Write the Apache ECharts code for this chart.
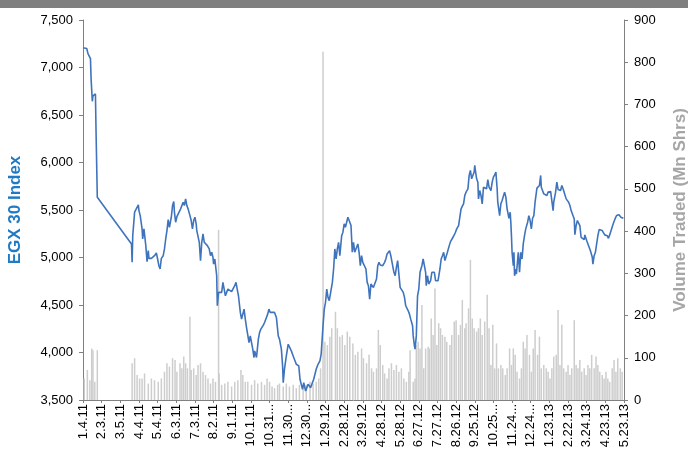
<!DOCTYPE html>
<html>
<head>
<meta charset="utf-8">
<script src="https://cdn.jsdelivr.net/npm/echarts@6/dist/echarts.min.js"></script>
<style>
  html, body { margin: 0; padding: 0; background: #fff; }
  #container { width: 688px; height: 453px; }
</style>
</head>
<body>
<div id="container"></div>
<script>
// days counted from 1.4.11 (the first tick)
const xTickLabels = ['1.4.11','2.3.11','3.5.11','4.4.11','5.4.11','6.3.11','7.3.11','8.2.11','9.1.11','10.1.11',
  '10.31...','11.30...','12.30...','1.29.12','2.28.12','3.29.12','4.28.12','5.28.12','6.27.12','7.27.12',
  '8.26.12','9.25.12','10.25...','11.24...','12.24...','1.23.13','2.22.13','3.24.13','4.23.13','5.23.13'];

const egxDays = [0,6,8,10,12,13,15,16,18,20,21,23,
  78,79,80,83,86,89,90,92,95,96,98,101,103,105,106,110,113,115,118,120,122,124,126,129,131,133,135,137,139,142,144,146,147,149,151,154,157,159,161,163,165,167,169,172,174,176,178,180,182,183,186,187,189,191,193,195,197,200,203,205,207,209,210,212,
  215,216,218,220,223,225,227,229,231,233,236,239,241,244,246,248,250,253,255,257,259,261,263,264,267,269,271,273,275,276,278,279,282,284,286,288,290,292,294,297,299,301,304,308,311,314,316,319,321,322,324,327,330,332,335,338,340,343,345,347,349,351,353,355,358,360,362,364,366,368,371,373,375,378,381,383,386,388,390,392,394,396,398,401,403,405,407,409,411,413,416,418,420,422,424,426,428,
  431,433,435,437,440,442,444,446,448,450,452,455,457,459,461,463,465,467,470,472,474,476,478,480,482,485,487,489,491,493,495,497,500,502,504,506,508,510,512,515,517,519,521,523,525,527,530,531,533,534,536,538,540,542,545,547,549,551,552,554,556,559,561,563,565,567,569,571,574,576,578,580,582,584,586,589,591,593,595,597,599,601,604,606,608,610,612,614,616,619,621,623,625,627,629,630,631,633,635,636,638,640,642,644,
  649,651,653,656,658,660,662,664,666,667,670,672,674,676,678,680,682,685,687,688,689,690,692,693,694,696,697,700,702,704,706,708,710,712,715,717,719,721,723,725,727,730,732,734,736,737,739,741,744,746,748,750,752,754,756,757,760,762,764,766,768,770,772,775,777,779,781,783,785,787,790,791,793,795,797,799,801,804,806,807,809,810,812,814,816,819,820,822,824,826,828,830,832,835,837,839,841,843,845,847,850,852,854,856,858,860,862,865,867,869];

const egxValues = [7207,7200,7147,7158,7094,6883,6644,6701,6697,6722,6321,5635,
  5143,4949,5230,5477,5477,5554,5494,5441,5301,5195,5301,5125,4956,5072,4991,4991,4977,5019,5048,4984,4914,4879,4991,5019,5090,5195,5283,5399,5318,5424,5547,5589,5477,5371,5431,5424,5512,5530,5582,5547,5617,5547,5512,5441,5389,5301,5389,5424,5354,5283,5294,5160,4967,5160,5248,5160,5143,5125,5090,5019,5055,5002,4931,4984,
  4808,4492,4633,4615,4633,4738,4668,4597,4633,4668,4650,4640,4650,4703,4738,4721,4597,4422,4351,4404,4457,4351,4263,4281,4105,4175,4193,4035,3947,4017,4035,3947,4140,4211,4246,4263,4288,4316,4334,4404,4457,4422,4422,4422,4369,4175,4140,4035,3859,3683,3824,3964,4087,4070,4017,3964,3957,3876,3894,3859,3718,3665,3613,3683,3595,3630,3665,3648,3630,3648,3718,3771,3824,3876,3912,3982,4281,4457,4527,4668,4580,4545,4527,4738,4879,5090,4984,5090,5160,5019,5230,5266,5354,5318,5371,5424,5441,
  5336,5055,5160,5055,5107,5143,5055,4914,5019,4949,4949,4879,4738,4703,4562,4721,4721,4685,4668,4773,4914,4949,4921,4928,4914,4949,4984,5037,5026,5072,5019,4949,4844,4808,4896,4967,4826,4685,4668,4633,4580,4492,4485,4439,4404,4351,4281,4175,4070,4035,4175,4597,4668,4844,4914,4984,4914,4844,4703,4808,4721,4756,4844,4861,4844,4756,4738,4756,4879,4984,5019,5055,4967,4984,5055,5125,5167,5171,5213,5238,5266,5301,5336,5424,5512,5540,5565,5653,5688,5723,5864,5916,5828,5818,5899,5969,5916,5828,5793,5617,5705,5653,5565,5740,
  5723,5821,5740,5705,5793,5846,5871,5899,5723,5582,5441,5565,5600,5617,5688,5635,5512,5413,5477,5371,5230,5055,4914,5055,4808,4879,4826,5055,4844,5055,4984,5143,5230,5301,5371,5441,5389,5301,5413,5441,5582,5730,5740,5758,5864,5740,5705,5670,5688,5653,5688,5688,5695,5688,5494,5582,5688,5793,5716,5723,5705,5758,5723,5705,5617,5600,5582,5547,5494,5512,5406,5241,5336,5389,5406,5336,5213,5230,5188,5238,5248,5178,5143,5125,5072,5002,4931,5019,5055,5143,5230,5294,5301,5283,5266,5238,5230,5230,5202,5238,5301,5343,5378,5413,5441,5431,5449,5424,5441,5413];

const volDays = [2,7,11,14,16,19,23,
  79,83,87,91,95,99,105,110,115,121,126,131,135,139,144,148,151,156,159,162,165,168,172,174,178,182,185,189,193,197,201,205,209,213,218,
  219,223,228,233,239,244,249,254,257,261,265,271,276,281,287,292,296,300,304,308,313,316,322,327,332,338,343,348,354,359,365,370,375,379,382,386,389,393,397,400,406,409,413,417,421,425,429,
  434,438,442,448,451,456,460,464,467,472,475,478,482,485,489,492,496,500,504,508,512,516,520,524,526,531,534,536,539,542,545,548,551,555,557,560,563,566,569,572,575,578,582,585,590,593,597,600,604,607,610,614,616,620,623,626,629,633,636,639,642,646,650,653,
  656,659,662,665,668,672,675,679,682,686,689,692,695,698,702,705,708,711,714,718,721,724,727,731,734,737,741,745,748,751,754,757,761,764,767,770,773,777,780,783,786,790,793,796,799,802,806,809,812,815,818,822,825,828,831,835,838,841,844,847,851,854,857,860,864,867];

const volValues = [51,71,47,122,118,43,118,
  87,99,59,51,51,63,39,51,47,43,51,67,87,79,99,95,67,87,75,103,87,75,197,71,75,59,83,87,67,59,51,39,51,43,403,
  63,36,39,43,32,43,47,71,59,43,43,36,47,39,43,36,51,43,32,28,36,39,32,39,32,36,28,36,32,36,43,39,43,51,75,825,138,130,150,170,209,170,150,154,130,162,150,
  134,107,114,122,99,87,107,75,67,75,166,130,83,63,51,75,87,71,83,67,75,51,43,67,118,43,51,130,138,122,225,75,122,126,122,193,154,264,130,182,170,154,150,138,130,154,186,189,154,178,237,170,182,217,332,193,170,162,170,193,154,186,249,170,
  83,178,75,134,75,83,75,59,75,122,83,122,107,67,51,75,138,122,154,107,67,122,166,107,150,75,83,75,67,51,75,103,107,213,83,178,75,67,83,59,75,189,83,75,95,67,75,59,83,75,107,75,103,83,67,59,51,67,51,43,75,95,67,99,75,67];

function zip(a, b) {
  return a.map((d, i) => [d, b[i]]);
}

let mychart = echarts.init(document.getElementById('container'));

const font = 'Liberation Sans, Arial, sans-serif';

var option = {
  animation: false,
  grid: { left: 83, right: 64, top: 20, bottom: 53, containLabel: false, outerBoundsMode: 'none' },
  graphic: [{
    type: 'rect', left: 0, top: 0, z: 10,
    shape: { width: 688, height: 8 },
    style: { fill: '#7f7f7f' }
  }],
  xAxis: {
    type: 'value',
    min: 0, max: 870, interval: 30,
    axisLine: { lineStyle: { color: '#808080', width: 1 } },
    axisTick: { show: true, length: 3, lineStyle: { color: '#808080' } },
    splitLine: { show: false },
    axisLabel: {
      rotate: 90, color: '#000', fontFamily: font, fontSize: 13, margin: 4,
      formatter: v => xTickLabels[Math.round(v / 30)]
    }
  },
  yAxis: [{
    type: 'value',
    min: 3500, max: 7500, interval: 500,
    name: 'EGX 30 Index',
    nameLocation: 'middle', nameGap: 59, nameRotate: 90,
    nameTextStyle: { color: '#1f7bc4', fontWeight: 'bold', fontSize: 17, fontFamily: font },
    axisLine: { show: true, lineStyle: { color: '#808080' } },
    axisTick: { show: true, length: 4, lineStyle: { color: '#808080' } },
    splitLine: { show: false },
    axisLabel: {
      color: '#000', fontFamily: font, fontSize: 13, margin: 10,
      formatter: v => v.toLocaleString('en-US')
    }
  }, {
    type: 'value',
    min: 0, max: 900, interval: 100,
    name: 'Volume Traded (Mn Shrs)',
    nameLocation: 'middle', nameGap: 48, nameRotate: 90,
    nameTextStyle: { color: '#a6a6a6', fontWeight: 'bold', fontSize: 17, fontFamily: font },
    axisLine: { show: true, lineStyle: { color: '#808080' } },
    axisTick: { show: true, length: 4, lineStyle: { color: '#808080' } },
    splitLine: { show: false },
    axisLabel: { color: '#000', fontFamily: font, fontSize: 13, margin: 10 }
  }],
  series: [{
    name: 'Volume',
    type: 'bar',
    yAxisIndex: 1,
    barWidth: 1.5,
    itemStyle: { color: '#cdcdcd' },
    data: zip(volDays, volValues),
    z: 1
  }, {
    name: 'EGX 30',
    type: 'line',
    yAxisIndex: 0,
    showSymbol: false,
    lineStyle: { color: '#3f74bd', width: 1.6 },
    data: zip(egxDays, egxValues),
    z: 2
  }]
};

mychart.setOption(option);
</script>
</body>
</html>
